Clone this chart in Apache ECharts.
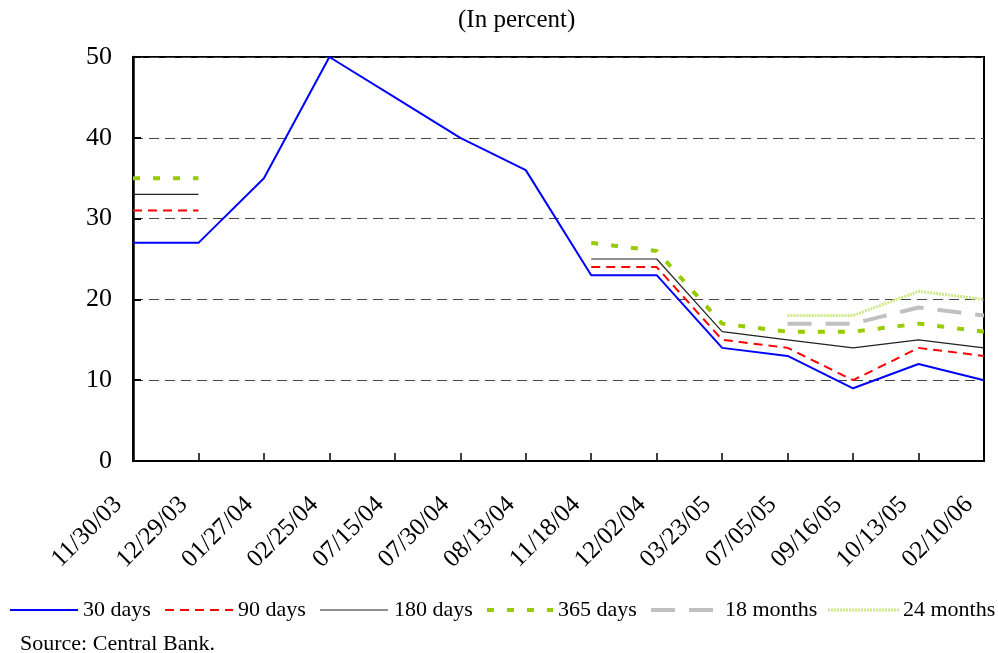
<!DOCTYPE html>
<html lang="en">
<head>
    <meta charset="UTF-8">
    <title>Interest rates</title>
    <script src="https://cdn.jsdelivr.net/npm/echarts@6/dist/echarts.min.js"></script>
    <style type="text/css">
        body{
            margin: 0px;
            padding: 0px;
            background: #fff;
        }
        #chart{
            width: 998px;
            height: 653px;
        }
    </style>
</head>
<body>
    <div id="chart"></div>
<script type="text/javascript">
    // dates (x axis)
    var dates = ['11/30/03', '12/29/03', '01/27/04', '02/25/04', '07/15/04', '07/30/04', '08/13/04',
                 '11/18/04', '12/02/04', '03/23/05', '07/05/05', '09/16/05', '10/13/05', '02/10/06'];
    var yTicks = [0, 10, 20, 30, 40, 50];
    // rates, in percent
    var d30  = [27, 27, 35, 50, 45, 40, 36, 23, 23, 14, 13, 9, 12, 10];
    var d90  = [31, 31, null, null, null, null, null, 24, 24, 15, 14, 10, 14, 13];
    var d180 = [33, 33, null, null, null, null, null, 25, 25, 16, 15, 14, 15, 14];
    var d365 = [35, 35, null, null, null, null, null, 27, 26, 17, 16, 16, 17, 16];
    var m18  = [null, null, null, null, null, null, null, null, null, null, 17, 17, 19, 18];
    var m24  = [null, null, null, null, null, null, null, null, null, null, 18, 18, 21, 20];

    var font = '"Liberation Serif", "Times New Roman", serif';

    // line look of each series, shared by the plot and the legend
    var styles = [
        {name: '30 days',   data: d30,  color: '#0000ff', width: 2,   type: 'solid'},
        {name: '90 days',   data: d90,  color: '#ff0000', width: 2,   type: [9, 6]},
        {name: '180 days',  data: d180, color: '#222222', width: 1.2, type: 'solid'},
        {name: '365 days',  data: d365, color: '#99cc00', width: 4,   type: [7, 13]},
        {name: '18 months', data: m18,  color: '#c0c0c0', width: 4,   type: [24, 14]},
        {name: '24 months', data: m24,  color: '#cfe88a', width: 3,   type: [2, 1]}
    ];
    // legend: start of the line sample and of the text, in px
    var legendX = [[10, 78, 83], [165, 233, 238], [320, 388, 394], [487, 553, 558], [651, 713, 725], [828, 899, 903]];
    var legendY = 610;

    var graphics = [{
        type: 'text',
        left: 20,
        top: 633,
        style: {text: 'Source: Central Bank.', font: '22px ' + font, fill: '#000'}
    }];
    styles.forEach(function (s, i) {
        graphics.push({
            type: 'line',
            shape: {x1: legendX[i][0], y1: legendY, x2: legendX[i][1], y2: legendY},
            style: {stroke: s.color, lineWidth: s.width, lineDash: s.type === 'solid' ? null : s.type}
        });
        graphics.push({
            type: 'text',
            x: legendX[i][2],
            y: legendY,
            style: {text: s.name, font: '22px ' + font, fill: '#000', verticalAlign: 'middle'}
        });
    });

    var myChart = echarts.init(document.getElementById('chart'));
    myChart.setOption({
        animation: false,
        textStyle: {fontFamily: font, color: '#000'},
        title: {
            text: '(In percent)',
            left: 453,
            top: 3,
            textStyle: {fontFamily: font, fontSize: 25, fontWeight: 'normal', color: '#000'}
        },
        graphic: graphics,
        grid: {
            left: 133,
            right: 14,
            top: 57,
            bottom: 192,
            show: true,
            borderColor: '#000',
            borderWidth: 2
        },
        xAxis: {
            type: 'category',
            data: dates,
            boundaryGap: false,
            axisLine: {lineStyle: {color: '#000', width: 2}},
            axisTick: {inside: true, length: 8, lineStyle: {color: '#000', width: 1.5}},
            axisLabel: {rotate: 45, fontSize: 25, margin: 25, padding: [0, 21, 0, 0], color: '#000', fontFamily: font},
            splitLine: {show: false}
        },
        yAxis: {
            type: 'value',
            min: yTicks[0],
            max: yTicks[yTicks.length - 1],
            interval: 10,
            axisLine: {show: true, lineStyle: {color: '#000', width: 2.5}},
            axisTick: {show: true, inside: true, length: 8, lineStyle: {color: '#000', width: 2}},
            axisLabel: {fontSize: 26, margin: 21, color: '#000', fontFamily: font},
            splitLine: {lineStyle: {color: '#444', width: 1, type: [10, 6]}}
        },
        series: styles.map(function (s) {
            return {
                name: s.name,
                type: 'line',
                data: s.data,
                symbol: 'none',
                connectNulls: false,
                silent: true,
                lineStyle: {color: s.color, width: s.width, type: s.type},
                itemStyle: {color: s.color}
            };
        })
    });
</script>
</body>
</html>
